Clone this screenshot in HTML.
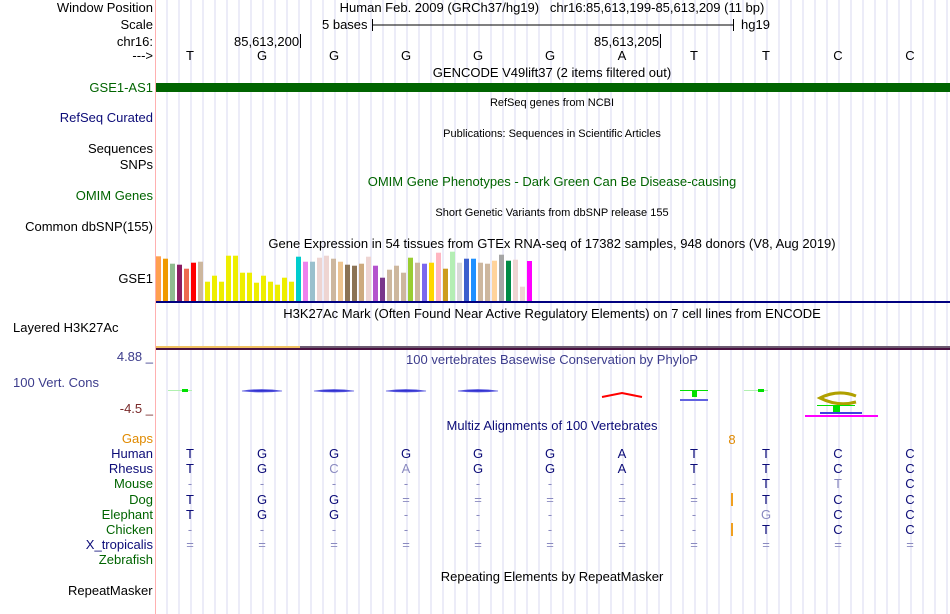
<!DOCTYPE html>
<html><head><meta charset="utf-8"><style>
body{margin:0;width:950px;height:614px;background:#fff;position:relative;overflow:hidden;font-family:"Liberation Sans",sans-serif;font-size:13px;color:#000}
.t{position:absolute;white-space:nowrap;line-height:14px}
.l{position:absolute;right:797px;text-align:right;white-space:nowrap;line-height:14px}
.c{position:absolute;white-space:nowrap;line-height:14px;transform:translateX(-50%)}
.s{font-size:11px}
svg{position:absolute;left:0;top:0}
</style></head><body>
<svg id="g" width="950" height="614"></svg>

<div class="l" style="top:1px">Window Position</div>
<div class="l" style="top:18px">Scale</div>
<div class="l" style="top:35px">chr16:</div>
<div class="l" style="top:49px">---&gt;</div>
<div class="l" style="top:81px;color:#006400">GSE1-AS1</div>
<div class="l" style="top:111px;color:#0c0c78">RefSeq Curated</div>
<div class="l" style="top:142px">Sequences</div>
<div class="l" style="top:158px">SNPs</div>
<div class="l" style="top:189px;color:#006400">OMIM Genes</div>
<div class="l" style="top:220px">Common dbSNP(155)</div>
<div class="l" style="top:272px">GSE1</div>
<div class="t" style="top:321px;left:13px">Layered H3K27Ac</div>
<div class="l" style="top:350px;color:#3c3c8c">4.88 _</div>
<div class="t" style="top:376px;left:13px;color:#3c3c8c">100 Vert. Cons</div>
<div class="l" style="top:402px;color:#7a2a2a">-4.5 _</div>
<div class="l" style="top:432px;color:#e08a00">Gaps</div>
<div class="t" style="top:584px;left:68px">RepeatMasker</div>

<div class="c" style="top:1px;left:552px">Human Feb. 2009 (GRCh37/hg19)&nbsp;&nbsp; chr16:85,613,199-85,613,209 (11 bp)</div>
<div class="t" style="top:18px;left:322px">5 bases</div>
<div class="t" style="top:18px;left:741px">hg19</div>
<div class="t" style="top:35px;left:234px">85,613,200</div>
<div class="t" style="top:35px;left:594px">85,613,205</div>
<div class="c" style="top:66px;left:552px">GENCODE V49lift37 (2 items filtered out)</div>
<div class="c s" style="top:96px;left:552px">RefSeq genes from NCBI</div>
<div class="c s" style="top:127px;left:552px">Publications: Sequences in Scientific Articles</div>
<div class="c" style="top:175px;left:552px;color:#006400">OMIM Gene Phenotypes - Dark Green Can Be Disease-causing</div>
<div class="c s" style="top:206px;left:552px">Short Genetic Variants from dbSNP release 155</div>
<div class="c" style="top:237px;left:552px">Gene Expression in 54 tissues from GTEx RNA-seq of 17382 samples, 948 donors (V8, Aug 2019)</div>
<div class="c" style="top:307px;left:552px">H3K27Ac Mark (Often Found Near Active Regulatory Elements) on 7 cell lines from ENCODE</div>
<div class="c" style="top:353px;left:552px;color:#3c3c8c">100 vertebrates Basewise Conservation by PhyloP</div>
<div class="c" style="top:419px;left:552px;color:#0c0c78">Multiz Alignments of 100 Vertebrates</div>
<div class="c" style="top:570px;left:552px">Repeating Elements by RepeatMasker</div>
<div id="txt"></div>

<script>
const NS='http://www.w3.org/2000/svg';
const svg=document.getElementById('g');
const txt=document.getElementById('txt');
const bases=['T','G','G','G','G','G','A','T','T','C','C'];
const species=['Human','Rhesus','Mouse','Dog','Elephant','Chicken','X_tropicalis','Zebrafish'];
const speciesColors=['#0c0c78','#0c0c78','#006400','#006400','#006400','#006400','#0c0c78','#006400'];
const alignRows=[
 'TGGGGGATTCC',
 'TGCAGGATTCC',
 '--------TTC',
 'TGG=====TCC',
 'TGG-----GCC',
 '--------TCC',
 '===========',
 '           '];
const grayCells=[[1,2],[1,3],[2,9],[4,8]];
const gtexValues=[44.7,42.3,37.3,36.3,32.3,38.3,39.3,19.3,25.3,19.3,45.3,45.3,28.3,28.3,18.3,25.3,19.3,16.3,23.3,19.3,44.3,39.3,39.3,43.3,45.3,42.3,39.3,36.3,35.3,37.3,44.3,35.3,23.3,31.3,35.3,28.3,43.3,38.3,37.3,38.3,48.3,32.3,49.3,38.3,42.3,42.3,38.3,37.3,40.3,46.3,40.3,41.3,14.3,40];
const gtexColors=['#ff9f4f','#f09a00','#8fbc8f','#8b1c62','#ee6a50','#ff0000','#cdb79e','#eeee00','#eeee00','#eeee00','#eeee00','#eeee00','#eeee00','#eeee00','#eeee00','#eeee00','#eeee00','#eeee00','#eeee00','#eeee00','#00cdcd','#ee82ee','#9ac0cd','#eed5d2','#eed5d2','#cdb79e','#eec591','#8b7355','#8b7355','#cdaa7d','#eed5d2','#b452cd','#7a378b','#cdb79e','#cdb79e','#cdb79e','#9acd32','#cdb79e','#7b68ee','#ffd700','#ffb6c1','#cd9b1d','#b4eeb4','#d9d9d9','#3a5fcd','#1e90ff','#cdb79e','#cdb79e','#ffd39b','#a6a6a6','#008b45','#eed5d2','#eed5d2','#ff00ff'];

const baseX=i=>190+72*i;
function el(tag,attrs){const e=document.createElementNS(NS,tag);for(const k in attrs)e.setAttribute(k,attrs[k]);svg.appendChild(e);return e;}
function addText(s,x,y,color,name){const d=document.createElement('div');d.className='c';d.style.left=x+'px';d.style.top=(y-7)+'px';d.style.color=color;d.textContent=s;


txt.appendChild(d);return d;}

for(let x=167;x<950;x+=12){const l=el('line',{x1:x,y1:0,x2:x,y2:614,stroke:'#d8d8f0','stroke-width':1});

}
const border=el('line',{x1:155.5,y1:0,x2:155.5,y2:614,stroke:'#ffb0b0'});


let sb=el('path',{d:'M372.5,19V31M372.5,25H733.5M733.5,19V31',stroke:'#000',fill:'none'});


let tk=el('path',{d:'M300.5,34V48M660.5,34V48',stroke:'#000'});


bases.forEach((b,i)=>addText(b,baseX(i),56,'#000','base-'+i));
let gb=el('rect',{x:156,y:83,width:794,height:9,fill:'#006400'});


const gBase=301,gStep=7;
gtexValues.forEach((v,i)=>{const r=el('rect',{x:156+i*gStep,y:gBase-v,width:5,height:v,fill:gtexColors[i]});

});
let gl=el('rect',{x:156,y:301,width:794,height:2,fill:'#000080'});


let h1=el('rect',{x:156,y:346,width:144,height:2,fill:'#f0c060'});


let h2=el('rect',{x:300,y:346,width:650,height:2,fill:'#6b5a70'});


let h3=el('rect',{x:156,y:348,width:794,height:2,fill:'#4a1040'});


function glyph(i,kind){const x=baseX(i);let g;
 if(kind==='green'){el('line',{x1:x-22,y1:390.5,x2:x+2,y2:390.5,stroke:'#b0f0b0'});g=el('rect',{x:x-8,y:389,width:6,height:3,fill:'#00e000'});}
 else if(kind==='blue'){g=el('path',{d:`M${x-20},391 Q${x},388 ${x+20},391 Q${x},393 ${x-20},391Z`,fill:'#3030d0',stroke:'#6060e0','stroke-width':0.8});}
 else if(kind==='red'){g=el('path',{d:`M${x-20},397 L${x},393 L${x+20},397`,stroke:'#ff0000','stroke-width':2,fill:'none'});}
 else if(kind==='T'){el('line',{x1:x-14,y1:390.5,x2:x+14,y2:390.5,stroke:'#00e000'});g=el('rect',{x:x-2,y:390,width:5,height:7,fill:'#00e000'});el('rect',{x:x-14,y:399,width:28,height:2,fill:'#6060e0'});}
 else if(kind==='C'){g=el('path',{d:`M${x+18},396 Q${x},389 ${x-18},398 Q${x},407 ${x+18},402`,stroke:'#b0a000','stroke-width':3,fill:'none'});el('line',{x1:x-21,y1:405.5,x2:x+17,y2:405.5,stroke:'#00e000'});el('rect',{x:x-5,y:405,width:7,height:8,fill:'#00e000'});el('rect',{x:x-18,y:412,width:42,height:2,fill:'#4040e0'});el('rect',{x:x-33,y:415,width:73,height:2,fill:'#ff00ff'});}
 
 }
['green','blue','blue','blue','blue',null,'red','T','green','C',null].forEach((k,i)=>{if(k)glyph(i,k);});
addText('8',732,440,'#e08a00','gap-count');
species.forEach((s,r)=>{const y=454+15.2*r;const d=document.createElement('div');d.className='l';d.style.top=(y-7)+'px';d.style.color=speciesColors[r];d.textContent=s;


txt.appendChild(d);
 alignRows[r].split('').forEach((ch,i)=>{if(ch===' ')return;const gray=grayCells.some(c=>c[0]===r&&c[1]===i)||ch==='-'||ch==='=';
 addText(ch,baseX(i),y,gray?'#8a8ac0':'#0c0c78','align-'+r+'-'+i);});});
[500,530].forEach(y=>{const o=el('rect',{x:731,y:y-7,width:2,height:13,fill:'#f0a020'});

});
</script>
</body></html>
